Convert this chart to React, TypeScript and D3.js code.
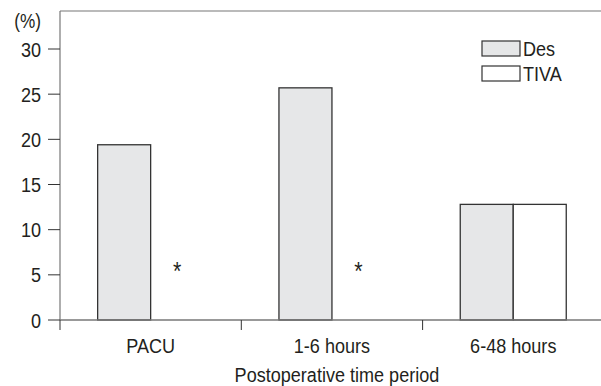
import React from 'react';
import * as d3 from 'd3';

// values (%)
const categories = ['PACU', '1-6 hours', '6-48 hours'];
const series = ['Des', 'TIVA'];
const desValues = [19.4, 25.7, 12.8];
const tivaValues = [0, 0, 12.8];
const yTicks = [0, 5, 10, 15, 20, 25, 30];
const significant = [true, true, false]; // asterisk marks on TIVA
const asteriskLevel = 6;

const W = 601;
const H = 386;
const left = 60;
const top = 11;
const bottom = 320;
const font = '"Liberation Sans", Arial, sans-serif';
const ink = '#231f20';
const narrow = 0.86; // the figure uses a condensed face

// condensed text: Liberation Sans squeezed horizontally
const T = ({ x, y, anchor = 'start', size = 21, dy, children }) => (
    <g transform={`translate(${x},${y}) scale(${narrow},1)`}>
        <text textAnchor={anchor} fontSize={size} dy={dy} fill={ink}>{children}</text>
    </g>
);

const App = () => {
    const y = d3.scaleLinear().domain([0, 30]).range([bottom, 49]);
    const x = d3.scaleBand().domain(categories).range([left, left + 3 * 181.3]);
    const barW = 53;
    const xSub = d3.scaleBand().domain(series).range([0, barW * 2]);
    const fills = { Des: '#e6e7e8', TIVA: '#ffffff' };

    const rows = categories.map((c, i) => ({ c, Des: desValues[i], TIVA: tivaValues[i] }));
    const boundaries = categories.map(c => x(c)).concat([left + 3 * x.step()]);

    return (
        <svg width={W} height={H} style={{ position: 'absolute', left: 0, top: 0 }} fontFamily={font}>
            {/* frame: top border and y axis */}
            <line x1={left} x2={W} y1={top} y2={top} stroke="#777" strokeWidth={1.2} />
            <line x1={left} x2={left} y1={top} y2={bottom} stroke="#777" strokeWidth={1.2} />

            {/* bars */}
            {rows.map(r => (
                <g key={r.c} transform={`translate(${x(r.c) + x.bandwidth() / 2 - barW},0)`}>
                    {series.map(s => r[s] > 0 && (
                        <rect key={s} x={xSub(s)} width={xSub.bandwidth()}
                            y={y(r[s])} height={y(0) - y(r[s])}
                            fill={fills[s]} stroke="#333" strokeWidth={1.3} />
                    ))}
                </g>
            ))}

            {/* asterisks */}
            {categories.map((c, i) => significant[i] && (
                <T key={c} x={x(c) + x.bandwidth() / 2 - barW + xSub('TIVA') + xSub.bandwidth() / 2}
                    y={y(asteriskLevel)} dy="0.58em" anchor="middle" size={25}>*</T>
            ))}

            {/* x axis */}
            <line x1={left} x2={W} y1={bottom} y2={bottom} stroke="#777" strokeWidth={1.4} />
            {boundaries.map((b, i) => (
                <line key={i} x1={b} x2={b} y1={bottom} y2={bottom + 10} stroke="#333" strokeWidth={1} />
            ))}
            {categories.map(c => (
                <T key={c} x={x(c) + x.bandwidth() / 2} y={353} anchor="middle">{c}</T>
            ))}
            <T x={x('1-6 hours') + x.bandwidth() / 2 + 5} y={382} anchor="middle">Postoperative time period</T>

            {/* y axis */}
            {yTicks.map(t => (
                <g key={t} transform={`translate(0,${y(t)})`}>
                    <line x1={48} x2={left} stroke="#333" strokeWidth={1} />
                    <T x={41} y={0} dy="0.36em" anchor="end">{t}</T>
                </g>
            ))}
            <T x={41} y={28} anchor="end" size={20}>(%)</T>

            {/* legend */}
            {series.map((s, i) => (
                <g key={s} transform={`translate(482,${41 + i * 25})`}>
                    <rect width={38} height={15} fill={fills[s]} stroke="#333" strokeWidth={1.2} />
                    <T x={41} y={15}>{s}</T>
                </g>
            ))}
        </svg>
    );
};

export default App;
